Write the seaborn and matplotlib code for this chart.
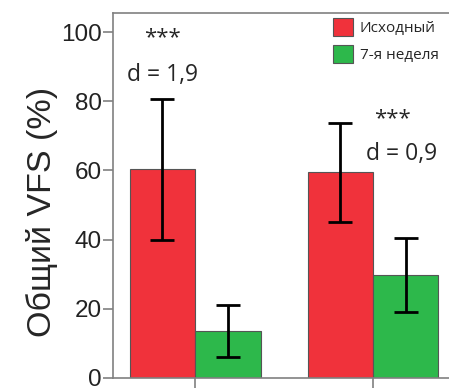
import matplotlib
matplotlib.use("Agg")
import matplotlib.pyplot as plt
import pandas as pd
import seaborn as sns

# Data
groups = ["A", "B"]
periods = ["Исходный", "7-я неделя"]
means = {"Исходный": [60.3, 59.5], "7-я неделя": [13.6, 29.8]}
err_low = {"Исходный": [40.0, 45.2], "7-я неделя": [6.2, 19.0]}
err_high = {"Исходный": [80.5, 73.6], "7-я неделя": [21.2, 40.5]}
stars = ["***", "***"]
effects = ["d = 1,9", "d = 0,9"]
ytick_values = [0, 20, 40, 60, 80, 100]

rows = []
for p in periods:
    for g, m in zip(groups, means[p]):
        rows.append({"group": g, "period": p, "value": m})
df = pd.DataFrame(rows)

sns.set_theme(style="white")
plt.rcParams["font.family"] = ["Liberation Sans", "DejaVu Sans"]

fig = plt.figure(figsize=(4.49, 3.88), dpi=100)
ax = fig.add_axes([0.2517, 0.0258, 0.7617, 0.9407])

palette = {"Исходный": "#F0323B", "7-я неделя": "#2DB84B"}
sns.barplot(data=df, x="group", y="value", hue="period", hue_order=periods,
            palette=palette, width=0.736, errorbar=None, saturation=1,
            edgecolor="#555555", linewidth=0.8, ax=ax)

# Error bars drawn at the bar centres seaborn produced
for container, p in zip(ax.containers, periods):
    xs = [bar.get_x() + bar.get_width() / 2 for bar in container]
    m = means[p]
    lo = [mm - l for mm, l in zip(m, err_low[p])]
    hi = [h - mm for mm, h in zip(m, err_high[p])]
    ax.errorbar(xs, m, yerr=[lo, hi], fmt="none", ecolor="black",
                elinewidth=2, capsize=8.5, capthick=2, zorder=5)

# Significance and effect size labels
txt_font = ["Open Sans", "DejaVu Sans"]
ax.text(-0.185, 98.3, stars[0], ha="center", va="center", fontsize=16, family=txt_font)
ax.text(-0.185, 87.6, effects[0], ha="center", va="center", fontsize=16.5, family=txt_font)
ax.text(1.107, 74.8, stars[1], ha="center", va="center", fontsize=16, family=txt_font)
ax.text(1.16, 64.6, effects[1], ha="center", va="center", fontsize=16.5, family=txt_font)

ax.set_xlim(-0.461, 1.461)
ax.set_ylim(0, 105.5)
ax.set_yticks(ytick_values)
ax.set_yticklabels([str(v) for v in ytick_values], fontsize=17.5, color="#222222")
ax.set_xticks([0, 1])
ax.set_xticklabels(["", ""])
ax.set_xlabel("")
ax.set_ylabel("Общий VFS (%)", fontsize=24.5)
ax.yaxis.set_label_coords(-0.16, 0.455)

for side in ["left", "bottom", "top"]:
    ax.spines[side].set_color("#808080")
    ax.spines[side].set_linewidth(1.2)
ax.spines["right"].set_visible(False)
ax.tick_params(axis="both", direction="out", length=7, width=1.2, color="#808080",
               left=True, bottom=True, pad=1)

leg = ax.legend(loc="upper left", bbox_to_anchor=(0.643, 0.986), frameon=False,
                prop={"family": txt_font, "size": 11}, handlelength=1.3,
                handleheight=1.4, handletextpad=0.45, labelspacing=0.6,
                borderaxespad=0, borderpad=0)

fig.savefig("out.png", dpi=100)
